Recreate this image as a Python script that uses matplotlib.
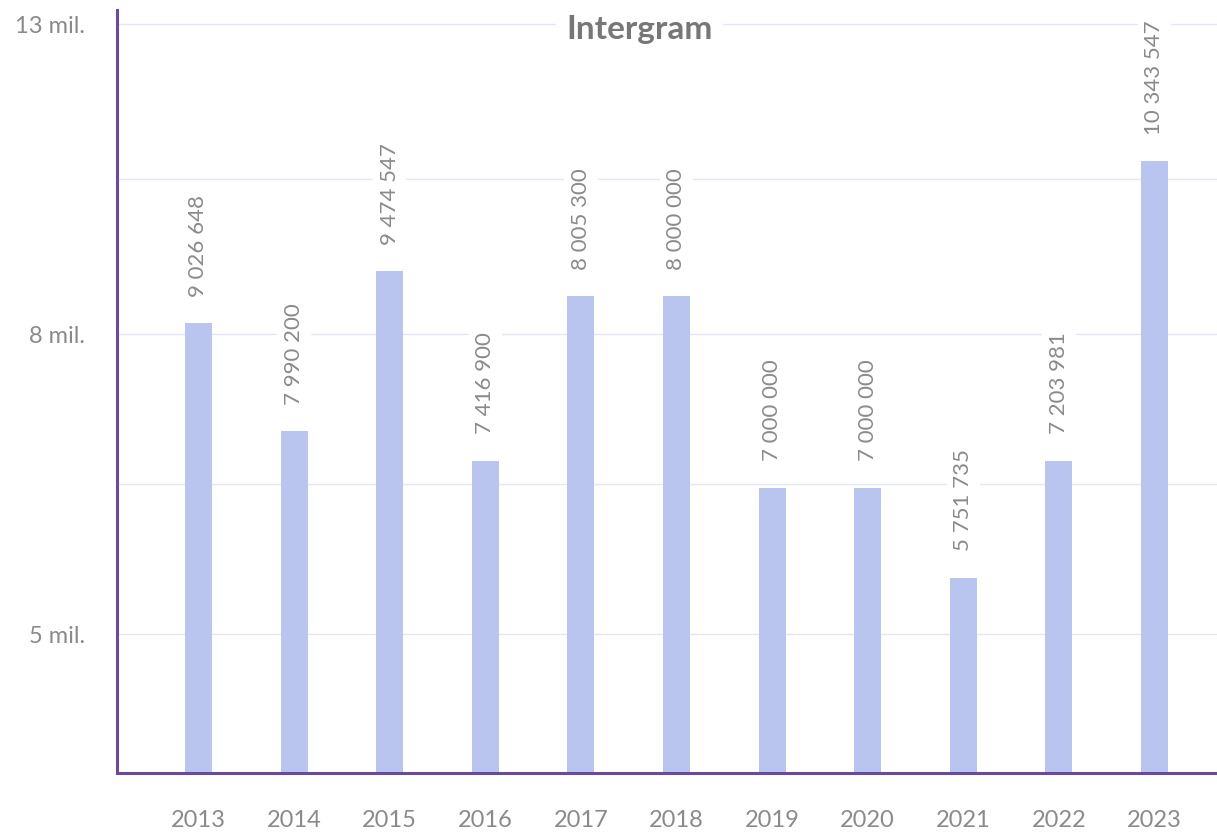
import matplotlib
matplotlib.use("Agg")
import matplotlib.pyplot as plt
from matplotlib.ticker import FixedLocator, NullLocator

# 数据
years = ["2013", "2014", "2015", "2016", "2017", "2018",
         "2019", "2020", "2021", "2022", "2023"]
# 柱高（mil.，按图中坐标轴读取）
bar_heights = [8.14, 6.87, 8.83, 6.56, 8.49, 8.49, 6.29, 6.29, 5.46, 6.56, 10.49]
# 柱顶标注的数值
value_labels = [9026648, 7990200, 9474547, 7416900, 8005300, 8000000,
                7000000, 7000000, 5751735, 7203981, 10343547]
y_ticks = [5, 8, 13]
y_tick_labels = ["5 mil.", "8 mil.", "13 mil."]
grid_values = [5, 6.325, 8, 10.2, 13]
title = "Intergram"

plt.rcParams["font.family"] = ["Lato", "DejaVu Sans"]

bar_color = "#BAC5EF"
spine_color = "#6A4A9E"
grid_color = "#E3E6F7"
text_color = "#8a8a8a"

fig = plt.figure(figsize=(12.17, 8.35), dpi=100)
ax = fig.add_axes([0.0961, 0.0743, 0.9039, 0.9137])

x = list(range(len(years)))
ax.bar(x, bar_heights, width=0.282, color=bar_color, zorder=2)

ax.set_yscale("log")
ax.set_ylim(4.022, 13.29)
ax.set_xlim(-0.8525, 10.654)

# 网格线
for g in grid_values:
    ax.axhline(g, color=grid_color, linewidth=1, zorder=1)

ax.yaxis.set_major_locator(FixedLocator(y_ticks))
ax.yaxis.set_minor_locator(NullLocator())
ax.set_yticklabels(y_tick_labels)
ax.set_xticks(x)
ax.set_xticklabels(years)
ax.tick_params(axis="y", length=0, pad=23, labelsize=17, labelcolor=text_color)
ax.tick_params(axis="x", length=0, pad=27, labelsize=17, labelcolor=text_color)

for side in ["top", "right"]:
    ax.spines[side].set_visible(False)
for side in ["left", "bottom"]:
    ax.spines[side].set_color(spine_color)
    ax.spines[side].set_linewidth(2.2)
    ax.spines[side].set_zorder(3)

# 数值标注
for xi, h, v in zip(x, bar_heights, value_labels):
    txt = f"{v:,}".replace(",", " ")
    ax.annotate(txt, (xi, h), xytext=(0, 19), textcoords="offset points",
                rotation=90, ha="center", va="bottom", fontsize=16,
                color=text_color, zorder=4,
                bbox=dict(boxstyle="square,pad=0.3", fc="white", ec="none"))

# 标题
ax.text(0.475, 0.974, title, transform=ax.transAxes, ha="center", va="center",
        fontsize=24, fontweight="bold", color="#777777", zorder=5,
        bbox=dict(boxstyle="square,pad=0.3", fc="white", ec="none"))

fig.savefig("out.png", dpi=100)
